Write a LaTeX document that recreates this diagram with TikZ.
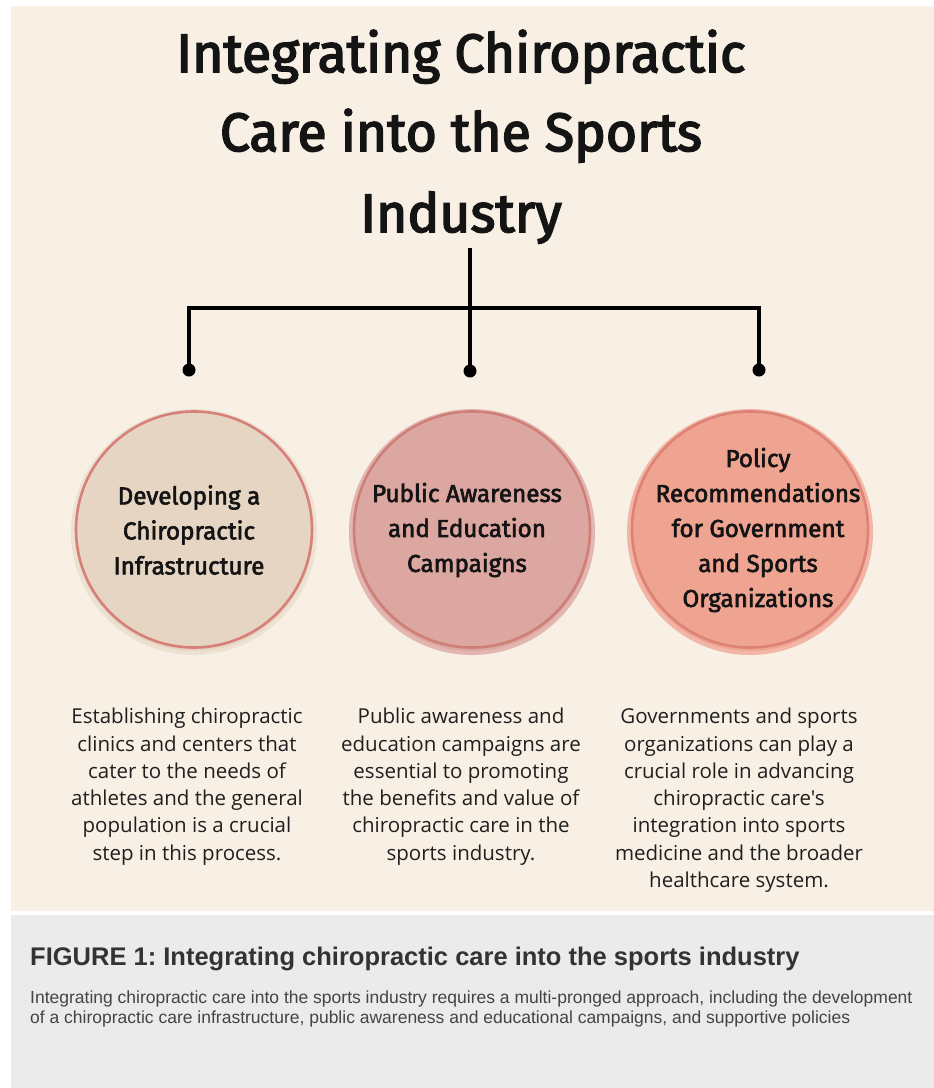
\documentclass[tikz,border=0pt]{standalone}
\usepackage{fontspec}
\setmainfont{Open Sans}
\newfontfamily\titlefont[FakeBold=3, FakeStretch=0.99]{Fira Sans}
\newfontfamily\labelfont[FakeBold=2.5, FakeStretch=0.99]{Fira Sans}
\newfontfamily\bodyfont{Open Sans}
\newfontfamily\capfont{Liberation Sans}
\definecolor{beige}{HTML}{F8F0E4}
\definecolor{graybg}{HTML}{EBEBEB}
\definecolor{fillA}{HTML}{E5D5C2}
\definecolor{rimA}{HTML}{EDE1D2}
\definecolor{ringA}{HTML}{D68079}
\definecolor{fillB}{HTML}{DCA6A1}
\definecolor{rimB}{HTML}{E4B6B1}
\definecolor{ringB}{HTML}{CE7F78}
\definecolor{fillC}{HTML}{EFA492}
\definecolor{rimC}{HTML}{F3B5A5}
\definecolor{ringC}{HTML}{DC8276}
\definecolor{captxt}{HTML}{333333}
\definecolor{capbody}{HTML}{444444}
\tikzset{
  titleline/.style={anchor=base, font=\titlefont\fontsize{54}{60}\selectfont, text=black!92, inner sep=0pt},
  bigcircle/.style={circle, minimum size=242pt, inner sep=0pt, line width=4pt},
  circlabel/.style={align=center, font=\labelfont\fontsize{24.5}{35}\selectfont, text=black!92, inner sep=0pt},
  bodytext/.style={align=center, anchor=north, font=\bodyfont\fontsize{20.5}{27.3}\selectfont, text=black!88, inner sep=0pt},
  dotnode/.style={circle, fill=black, minimum size=13pt, inner sep=0pt},
  wire/.style={line width=3.2pt, black},
}
\begin{document}
\frenchspacing
\begin{tikzpicture}[x=1pt,y=-1pt]
\useasboundingbox (0,0) rectangle (934,1088);
\fill[white] (0,0) rectangle (934,1088);
\fill[beige] (11,6) rectangle (934,911);
\fill[graybg] (11,915) rectangle (934,1088);

% title
\node[titleline] (title1) at (461,72) {Integrating Chiropractic};
\node[titleline] (title2) at (461,151) {Care into the Sports};
\node[titleline] (title3) at (461,232) {Industry};

% connectors
\coordinate (top) at (470,248);
\coordinate (bar) at (470,308);
\node[dotnode] (d1) at (189,370) {};
\node[dotnode] (d2) at (470,371) {};
\node[dotnode] (d3) at (759,370) {};
\draw[wire] (top) -- (d2.center);
\draw[wire] (d1.center) -- (d1.center |- bar) -- (d3.center |- bar) -- (d3.center);

% circles
\node[bigcircle, fill=fillA, draw=rimA] (c1) at (194,532) {};
\node[bigcircle, fill=fillB, draw=rimB] (c2) at (472,532) {};
\node[bigcircle, fill=fillC, draw=rimC] (c3) at (750,532) {};
\draw[ringA, line width=2.6pt] ([yshift=2.5pt]c1.center) circle (118pt);
\draw[ringB, line width=2.6pt] ([yshift=2.5pt]c2.center) circle (118pt);
\draw[ringC, line width=2.6pt] ([yshift=2.5pt]c3.center) circle (118pt);

\node[circlabel] (l1) at (189,530) {Developing a\\Chiropractic\\Infrastructure};
\node[circlabel] (l2) at (467,530) {Public Awareness\\and Education\\Campaigns};
\node[circlabel] (l3) at (758,530) {Policy\\Recommendations\\for Government\\and Sports\\Organizations};

% body text
\node[bodytext] (t1) at (187,708) {Establishing chiropractic\\clinics and centers that\\cater to the needs of\\athletes and the general\\population is a crucial\\step in this process.};
\node[bodytext] (t2) at (461,708) {Public awareness and\\education campaigns are\\essential to promoting\\the benefits and value of\\chiropractic care in the\\sports industry.};
\node[bodytext] (t3) at (739,708) {Governments and sports\\organizations can play a\\crucial role in advancing\\chiropractic care's\\integration into sports\\medicine and the broader\\healthcare system.};

% caption
\node[anchor=base west, inner sep=0pt, font=\capfont\bfseries\fontsize{25.5}{29}\selectfont, text=captxt] (cap) at (30,965) {FIGURE 1: Integrating chiropractic care into the sports industry};
\node[anchor=base west, inner sep=0pt, font=\capfont\fontsize{17.5}{21}\selectfont, text=capbody] (cb1) at (30,1003) {Integrating chiropractic care into the sports industry requires a multi-pronged approach, including the development};
\node[anchor=base west, inner sep=0pt, font=\capfont\fontsize{17.5}{21}\selectfont, text=capbody] (cb2) at (30,1023) {of a chiropractic care infrastructure, public awareness and educational campaigns, and supportive policies};
\end{tikzpicture}
\end{document}
